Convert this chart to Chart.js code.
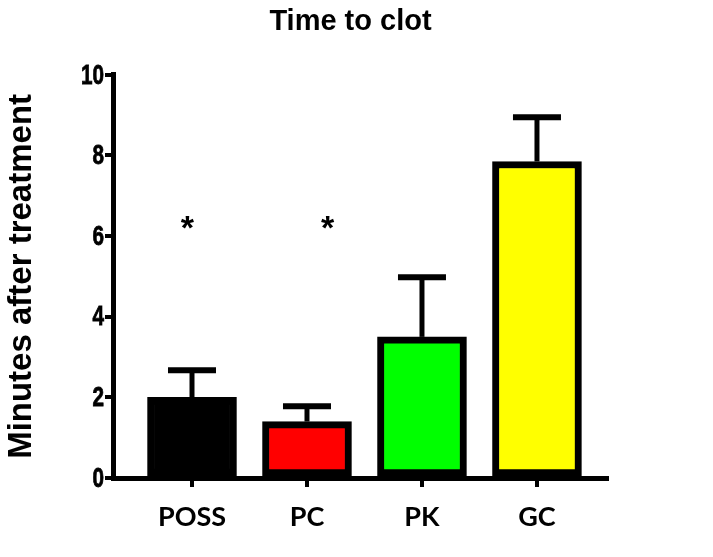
<!DOCTYPE html>
<html>
<head>
<meta charset="utf-8">
<script src="https://cdn.jsdelivr.net/npm/chart.js@4/dist/chart.umd.min.js"></script>
<style>
  html, body { margin: 0; padding: 0; background: #fff; }
  #wrap { width: 713px; height: 557px; }
</style>
</head>
<body>
<div id="wrap"><canvas id="c" width="713" height="557"></canvas></div>
<script>
// ---- data ----
const categories = ['POSS', 'PC', 'PK', 'GC'];
const meanMinutes = [2.0, 1.4, 3.5, 7.85];
const errorMinutes = [0.67, 0.38, 1.48, 1.1];
const barColors = ['#000000', '#ff0000', '#00ff00', '#ffff00'];
const sigLabels = ['*', '*', '', ''];
const sigLevels = [6.35, 6.35, null, null];
const sigXPositions = [0.96, 2.18, null, null];
const yTicks = [0, 2, 4, 6, 8, 10];

const errorBars = {
  id: 'errorBars',
  beforeDatasetsDraw(chart) {
    const ctx = chart.ctx, xs = chart.scales.x, ys = chart.scales.y;
    ctx.save();
    ctx.strokeStyle = '#000';
    meanMinutes.forEach((v, i) => {
      const x = xs.getPixelForValue(i + 1);
      const yb = ys.getPixelForValue(v);
      const yt = ys.getPixelForValue(v + errorMinutes[i]);
      ctx.lineWidth = 5;
      ctx.beginPath(); ctx.moveTo(x, yb); ctx.lineTo(x, yt); ctx.stroke();
      ctx.lineWidth = 6;
      ctx.beginPath(); ctx.moveTo(x - 24, yt); ctx.lineTo(x + 24, yt); ctx.stroke();
    });
    ctx.restore();
  },
  afterDatasetsDraw(chart) {
    const ctx = chart.ctx, xs = chart.scales.x, ys = chart.scales.y;
    ctx.save();
    ctx.fillStyle = '#000';
    ctx.font = 'bold 34px "Liberation Sans", Arial, sans-serif';
    ctx.textAlign = 'center';
    ctx.textBaseline = 'alphabetic';
    sigLabels.forEach((s, i) => {
      if (!s || sigLevels[i] == null) return;
      const x = xs.getPixelForValue(sigXPositions[i]);
      const y = ys.getPixelForValue(sigLevels[i]) + 17;
      ctx.fillText(s, x, y);
    });
    ctx.restore();
  }
};

// condensed y tick labels, placed through the y scale
const condensedYLabels = {
  id: 'condensedYLabels',
  afterDraw(chart) {
    const ctx = chart.ctx, ys = chart.scales.y;
    const right = ys.right - 8 - 1;
    ctx.save();
    ctx.fillStyle = '#000';
    ctx.strokeStyle = '#000';
    ctx.lineWidth = 0.8;
    ctx.font = 'bold 28px "Liberation Sans", Arial, sans-serif';
    ctx.textAlign = 'right';
    ctx.textBaseline = 'middle';
    yTicks.forEach(v => {
      const y = ys.getPixelForValue(v);
      ctx.save();
      ctx.translate(right, y + 1);
      ctx.scale(0.74, 1);
      ctx.fillText(String(v), 0, 0);
      ctx.strokeText(String(v), 0, 0);
      ctx.restore();
    });
    ctx.restore();
  }
};

new Chart(document.getElementById('c'), {
  type: 'bar',
  data: {
    datasets: [{
      data: meanMinutes.map((v, i) => ({ x: i + 1, y: v })),
      backgroundColor: barColors,
      borderColor: '#000',
      borderWidth: 7,
      borderSkipped: false,
      barThickness: 89
    }]
  },
  options: {
    responsive: false,
    animation: false,
    layout: { padding: { left: 0, right: 12, top: 0, bottom: 0 } },
    plugins: {
      legend: { display: false },
      tooltip: { enabled: false },
      title: {
        display: true,
        text: 'Time to clot',
        color: '#000',
        font: { family: '"Liberation Sans", Arial, sans-serif', size: 29, weight: 'bold' },
        padding: { top: 5, bottom: 35 }
      }
    },
    scales: {
      x: {
        type: 'linear',
        offset: false,
        min: 0.313,
        max: 4.609,
        afterBuildTicks(scale) { scale.ticks = categories.map((c, i) => ({ value: i + 1 })); },
        afterFit(scale) { scale.height = 79; },
        ticks: {
          callback: (v) => categories[Math.round(v) - 1] || '',
          color: '#000',
          font: { family: 'Lato, "Open Sans", sans-serif', size: 27, weight: 'bold' },
          padding: 14,
          maxRotation: 0,
          autoSkip: false
        },
        grid: { offset: false, drawOnChartArea: false, drawTicks: true, tickLength: 9, lineWidth: 4, color: '#000' },
        border: { display: true, width: 5, color: '#000' }
      },
      y: {
        min: 0,
        max: 10,
        afterBuildTicks(scale) { scale.ticks = yTicks.map(v => ({ value: v })); },
        afterFit(scale) { scale.width = 113; },
        ticks: {
          display: false
        },
        grid: { drawOnChartArea: false, drawTicks: true, tickLength: 8, lineWidth: 4, color: '#000' },
        border: { display: true, width: 5, color: '#000' },
        title: {
          display: true,
          text: 'Minutes after treatment',
          color: '#000',
          font: { family: '"Liberation Sans", Arial, sans-serif', size: 33, weight: 'bold' },
          padding: { top: 2, bottom: 0 }
        }
      },
      spacer: {
        type: 'linear',
        position: 'right',
        display: true,
        afterFit(scale) { scale.width = 94; },
        ticks: { display: false },
        grid: { display: false, drawTicks: false },
        border: { display: false }
      }
    }
  },
  plugins: [errorBars, condensedYLabels]
});
</script>
</body>
</html>
